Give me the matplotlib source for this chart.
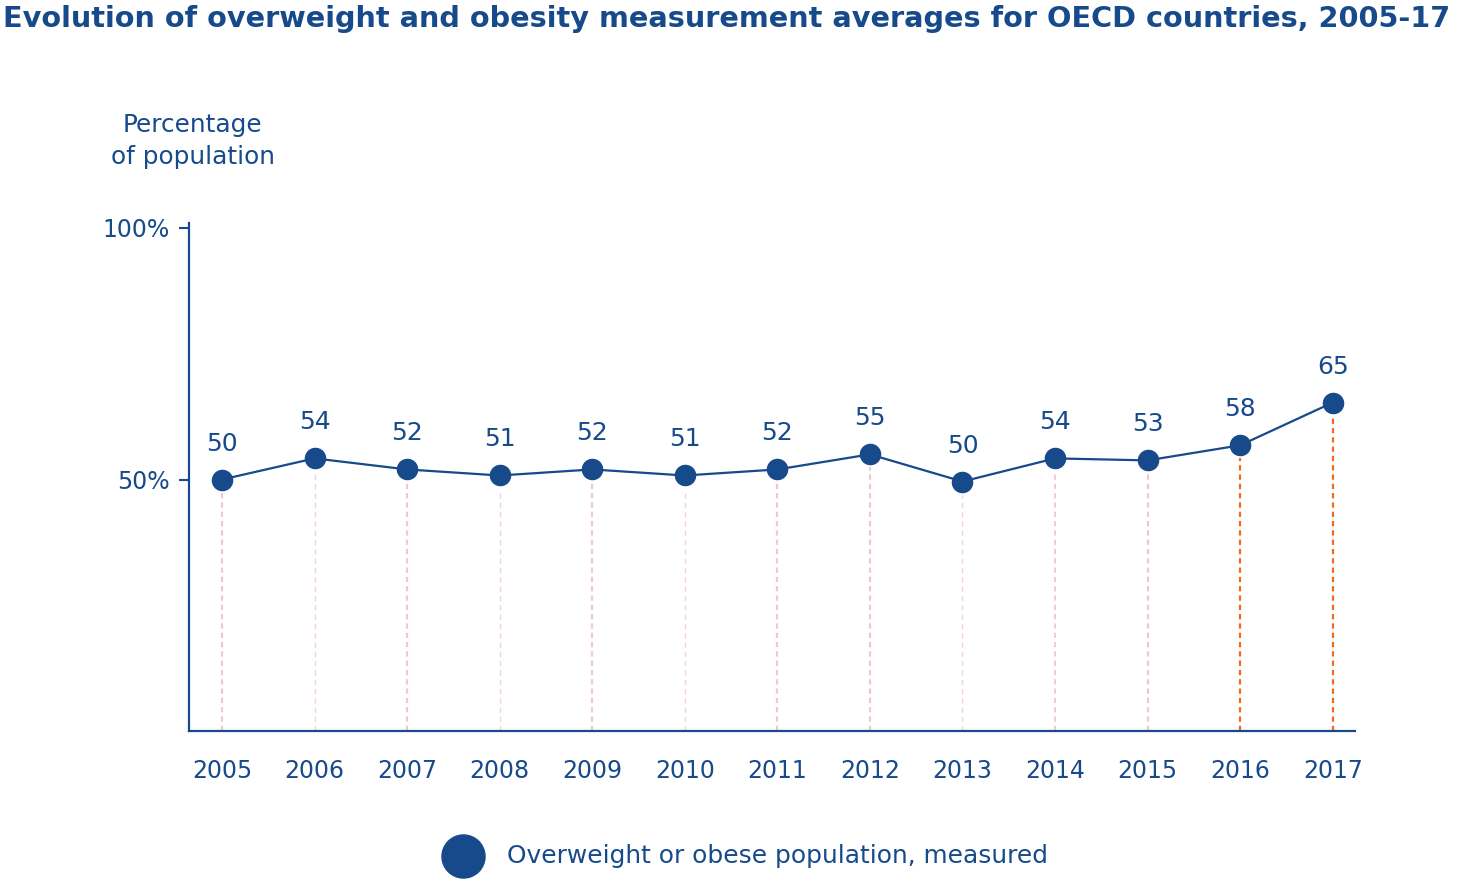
import matplotlib
matplotlib.use("Agg")
import matplotlib.pyplot as plt
from matplotlib.lines import Line2D

plt.rcParams["font.family"] = ["DejaVu Sans"]
plt.rcParams["lines.scale_dashes"] = False

# Data
years = ["2005", "2006", "2007", "2008", "2009", "2010", "2011",
         "2012", "2013", "2014", "2015", "2016", "2017"]
values = [50.0, 54.2, 52.0, 50.8, 52.0, 50.8, 52.0,
          55.0, 49.6, 54.2, 53.8, 56.8, 65.3]
labels = ["50", "54", "52", "51", "52", "51", "52",
          "55", "50", "54", "53", "58", "65"]

# Styles of the drop lines
BLUE = "#174a8b"
ORANGE = "#f26a1b"
PINK = "#f0c9c9"
PINK_LIGHT = "#f2d4d4"
drop_colors = [PINK, PINK_LIGHT, PINK, PINK_LIGHT, PINK, PINK_LIGHT, PINK,
               PINK, PINK_LIGHT, PINK, PINK, ORANGE, ORANGE]
drop_widths = [1.6, 1.0, 1.6, 1.0, 1.6, 1.0, 1.6,
               1.6, 1.0, 1.3, 1.6, 1.6, 1.6]

fig = plt.figure(figsize=(14.61, 8.83), dpi=100)
ax = fig.add_axes([0.1294, 0.1721, 0.7980, 0.5697])

x = list(range(len(years)))

# Dashed drop lines from the axis to each point
for i, v in enumerate(values):
    ax.plot([i, i], [0, v - 2.6], color=drop_colors[i], lw=drop_widths[i],
            linestyle=(0, (3.8, 2.9)), zorder=1)

ax.plot(x, values, color=BLUE, lw=1.6, marker="o", markersize=14.5,
        zorder=3, clip_on=False)

for i, (v, lab) in enumerate(zip(values, labels)):
    ax.annotate(lab, (i, v), xytext=(0, 36), textcoords="offset pixels",
                ha="center", va="center", fontsize=18, color=BLUE)

ax.set_xlim(-0.356, 12.24)
ax.set_ylim(0, 100)
ax.set_xticks(x)
ax.set_xticklabels(years)
ax.set_yticks([50, 100])
ax.set_yticklabels(["50%", "100%"])

ax.tick_params(axis="x", length=0, pad=20, labelsize=17, labelcolor=BLUE)
ax.tick_params(axis="y", direction="out", length=7, width=1.5, color=BLUE,
               pad=7, labelsize=17, labelcolor=BLUE)

for side in ["top", "right"]:
    ax.spines[side].set_visible(False)
for side in ["left", "bottom"]:
    ax.spines[side].set_color(BLUE)
    ax.spines[side].set_linewidth(1.6)
ax.spines["left"].set_bounds(0, 101)

fig.text(0.002, 0.979, "Evolution of overweight and obesity measurement averages for OECD countries, 2005-17",
         ha="left", va="center", fontsize=20.7, fontweight="bold", color=BLUE)

fig.text(0.132, 0.84, "Percentage\nof population", ha="center", va="center",
         fontsize=17.8, color=BLUE, linespacing=1.4)

# Legend
fig.add_artist(Line2D([0.317], [0.031], marker="o", markersize=31, color=BLUE,
                      linestyle="none", transform=fig.transFigure))
fig.text(0.347, 0.031, "Overweight or obese population, measured",
         ha="left", va="center", fontsize=17.9, color=BLUE)

fig.savefig("out.png", dpi=100)
